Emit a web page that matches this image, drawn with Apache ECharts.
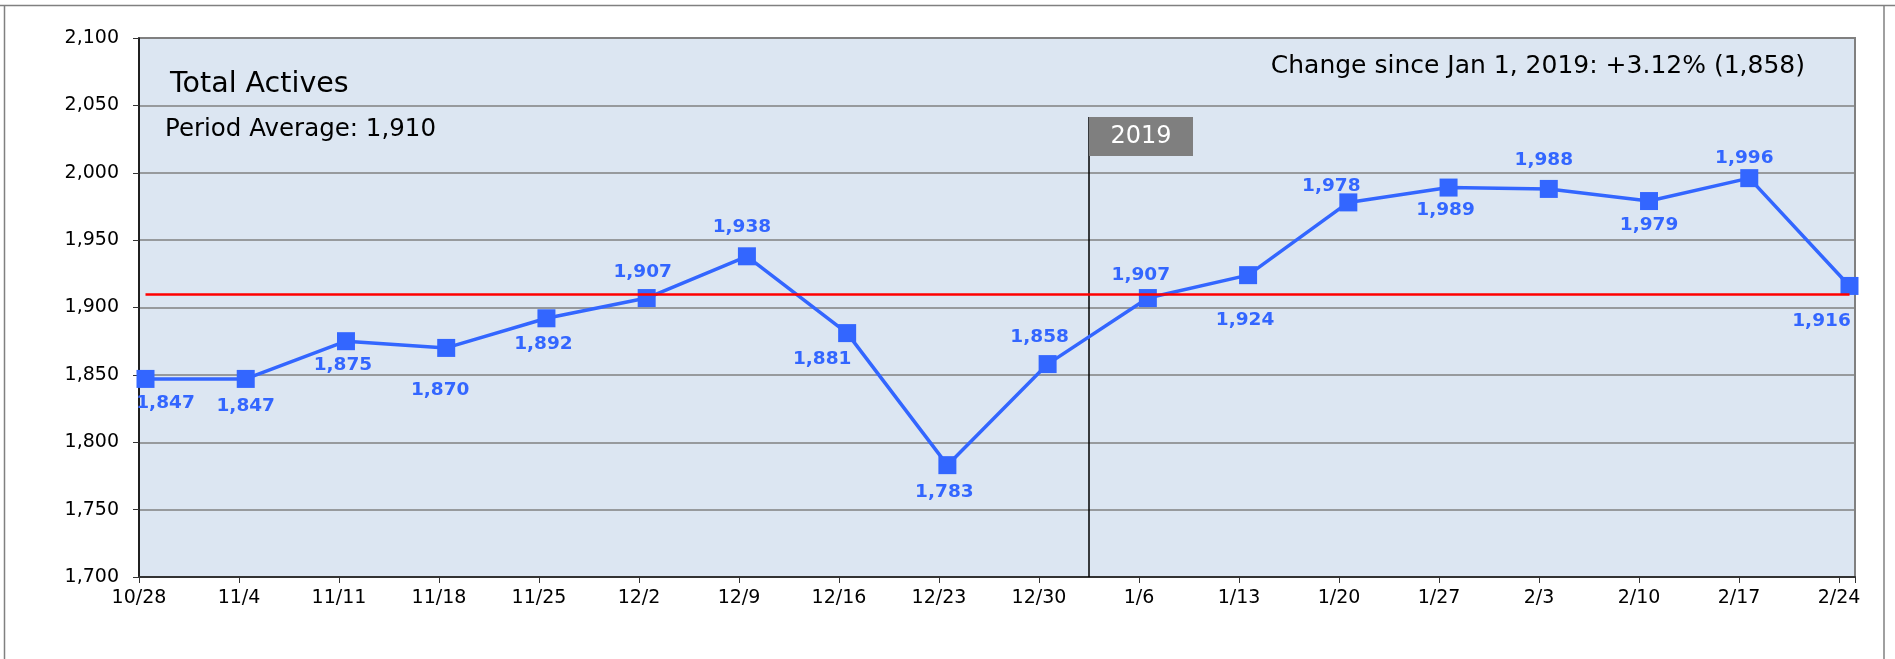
<!DOCTYPE html>
<html>
<head>
<meta charset="utf-8">
<title>Total Actives</title>
<script src="https://cdn.jsdelivr.net/npm/echarts@6/dist/echarts.min.js"></script>
<style>
  html, body { margin: 0; padding: 0; background: #fff; }
  #main { width: 1895px; height: 659px; }
</style>
</head>
<body>
<div id="main"></div>
<script>
// 数据
var weeks = ['10/28', '11/4', '11/11', '11/18', '11/25', '12/2', '12/9', '12/16', '12/23', '12/30',
             '1/6', '1/13', '1/20', '1/27', '2/3', '2/10', '2/17', '2/24'];
var actives = [1847, 1847, 1875, 1870, 1892, 1907, 1938, 1881, 1783, 1858,
               1907, 1924, 1978, 1989, 1988, 1979, 1996, 1916];
var yTicks = [1700, 2100, 50];   // min, max, step
var titleText = 'Total Actives';
var avgText = 'Period Average: 1,910';
var changeText = 'Change since Jan 1, 2019: +3.12% (1,858)';
var yearText = '2019';

// label placement (position, dx, dy) - layout only
var labelPlace = [
  ['bottom', 20, -1], ['bottom', 0, 2], ['bottom', -3, -2], ['bottom', -6, 17], ['bottom', -3, 0],
  ['top', -4, 0], ['top', -5, -4], ['bottom', -25, 1], ['bottom', -3, 2], ['top', -8, -1],
  ['top', -7, 3], ['bottom', -3, 20], ['top', -17, 9], ['bottom', -3, -3], ['top', -5, -3],
  ['bottom', 0, -1], ['top', -5, 6], ['bottom', -28, 10]
];

var FONT = '"DejaVu Sans", sans-serif';
var BLUE = '#3366ff';

function fmt(v) { return Number(v).toLocaleString('en-US'); }

var seriesData = actives.map(function (v, i) {
  var p = labelPlace[i];
  return { value: v, label: { position: p[0], offset: [p[1], p[2]] } };
});

var myChart = echarts.init(document.getElementById('main'));

var option = {
  animation: false,
  grid: [
    // 背景 + 坐标轴
    { left: 139, top: 38, width: 1716, height: 539, show: true,
      backgroundColor: '#dce6f2', borderColor: '#808080', borderWidth: 2 },
    // 数据
    { left: 145.5, top: 38, width: 1704, height: 539 }
  ],
  xAxis: [
    { gridIndex: 0, type: 'value', min: 0, max: 17.16, interval: 1,
      axisLine: { show: true, lineStyle: { color: '#333', width: 2 } },
      axisTick: { show: true, length: 6, lineStyle: { color: '#333', width: 1 } },
      splitLine: { show: false },
      axisLabel: {
        margin: 12, color: '#000', fontSize: 19, fontFamily: FONT,
        formatter: function (v) { return Number.isInteger(v) ? (weeks[v] || '') : ''; }
      }
    },
    { gridIndex: 1, type: 'category', boundaryGap: false, data: weeks, show: false }
  ],
  yAxis: [
    { gridIndex: 0, type: 'value', min: yTicks[0], max: yTicks[1], interval: yTicks[2],
      axisLine: { show: true, lineStyle: { color: '#000', width: 1.5 } },
      axisTick: { show: true, length: 6, lineStyle: { color: '#333' } },
      splitLine: { show: true, lineStyle: { color: '#808080', width: 1.5 } },
      axisLabel: { margin: 20, color: '#000', fontSize: 19, fontFamily: FONT, formatter: fmt }
    },
    { gridIndex: 1, type: 'value', min: yTicks[0], max: yTicks[1], show: false }
  ],
  series: [{
    name: 'Total Actives',
    type: 'line',
    xAxisIndex: 1,
    yAxisIndex: 1,
    data: seriesData,
    symbol: 'rect',
    symbolSize: 18,
    itemStyle: { color: BLUE },
    lineStyle: { color: BLUE, width: 3.5 },
    label: {
      show: true, distance: 7, color: BLUE, fontSize: 18.5, fontWeight: 'bold', fontFamily: FONT,
      formatter: function (p) { return fmt(p.value); }
    },
    markLine: {
      silent: true,
      symbol: 'none',
      label: { show: false },
      lineStyle: { color: '#ff0000', width: 2.5, type: 'solid' },
      data: [{ type: 'average' }]
    },
    z: 3
  }]
};

myChart.setOption(option);

// 2019 分隔线
var lineX = myChart.convertToPixel({ xAxisIndex: 0 }, 9.5);
var bottomY = myChart.convertToPixel({ yAxisIndex: 0 }, yTicks[0]);

myChart.setOption({
  graphic: [
    // 外框
    { type: 'line', shape: { x1: 0, y1: 5.5, x2: 1895, y2: 5.5 }, style: { stroke: '#808080', lineWidth: 1.5 } },
    { type: 'line', shape: { x1: 4.5, y1: 5.5, x2: 4.5, y2: 659 }, style: { stroke: '#808080', lineWidth: 1.5 } },
    { type: 'line', shape: { x1: 1884, y1: 5.5, x2: 1884, y2: 659 }, style: { stroke: '#808080', lineWidth: 1.5 } },
    { type: 'line', z: 2, shape: { x1: lineX, y1: 117, x2: lineX, y2: bottomY }, style: { stroke: '#000', lineWidth: 1.5 } },
    { type: 'rect', z: 2, shape: { x: lineX, y: 117, width: 104, height: 39 }, style: { fill: '#7f7f7f' } },
    { type: 'text', z: 3, x: lineX + 52, y: 137,
      style: { text: yearText, fill: '#fff', font: '24px ' + FONT, textAlign: 'center', textVerticalAlign: 'middle' } },
    { type: 'text', z: 3, x: 170, y: 85,
      style: { text: titleText, fill: '#000', font: '28.5px ' + FONT, textAlign: 'left', textVerticalAlign: 'middle' } },
    { type: 'text', z: 3, x: 165, y: 130,
      style: { text: avgText, fill: '#000', font: '24.5px ' + FONT, textAlign: 'left', textVerticalAlign: 'middle' } },
    { type: 'text', z: 3, x: 1805, y: 66,
      style: { text: changeText, fill: '#000', font: '25px ' + FONT, textAlign: 'right', textVerticalAlign: 'middle' } }
  ]
});
</script>
</body>
</html>
